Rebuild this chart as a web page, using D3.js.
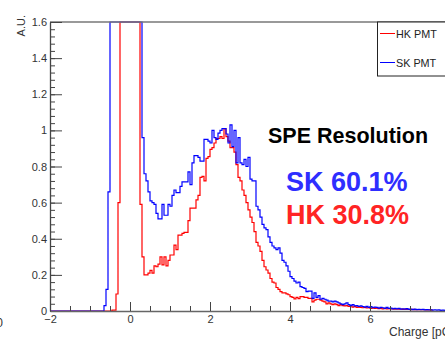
<!DOCTYPE html>
<html>
<head>
<meta charset="utf-8">
<script src="https://cdn.jsdelivr.net/npm/d3@7"></script>
<style>
  body { margin: 0; background: #fff; }
  svg { display: block; font-family: "Liberation Sans", Arial, Helvetica, sans-serif; }
</style>
</head>
<body>
<script>
// histogram bins, width 0.05 pC
const binWidth = 0.05
const xMin = -2
const xMax = 8

// SK PMT, first bin starts at -0.65 pC
const skStart = -0.65
const skValues = [
  0.03, 0.12, 0.66,
  4.1, 6.8, 9.5, 12.0, 13.2, 12.8, 11.0, 8.7, 6.2, 4.4, 3.1, 2.6, 2.2, 2.0, 1.9, 1.8,
  0.96, 0.76, 0.72, 0.66, 0.61, 0.60, 0.59, 0.54, 0.51, 0.51,
  0.59, 0.53, 0.53, 0.59, 0.58, 0.64, 0.67, 0.655, 0.655, 0.69,
  0.715, 0.715, 0.715, 0.77, 0.70, 0.82, 0.86, 0.86, 0.85, 0.83,
  0.83, 0.95, 0.95, 0.94, 0.93, 1.00, 0.96, 0.95, 0.985, 1.00,
  1.01, 1.01, 0.98, 0.93, 1.03, 0.91, 1.00, 0.82, 0.96, 0.82,
  0.81, 0.84, 0.80, 0.85, 0.73, 0.72, 0.72, 0.58, 0.56, 0.52,
  0.48, 0.46, 0.45, 0.41, 0.38, 0.36, 0.35, 0.34, 0.35, 0.32,
  0.28, 0.27, 0.25, 0.22, 0.19, 0.18, 0.165, 0.155, 0.16, 0.135,
  0.13, 0.125, 0.107, 0.11, 0.11, 0.07, 0.10, 0.075, 0.085, 0.065,
  0.07, 0.065, 0.06, 0.055, 0.055, 0.05, 0.055, 0.05, 0.045, 0.04,
  0.035, 0.04, 0.045, 0.035, 0.03, 0.035, 0.028, 0.03, 0.025, 0.028,
  0.025, 0.022, 0.026, 0.02, 0.024, 0.018, 0.022, 0.02, 0.016, 0.02,
  0.018, 0.015, 0.02, 0.014, 0.016, 0.012, 0.015, 0.012, 0.014, 0.01,
  0.012, 0.01, 0.013, 0.009, 0.011, 0.008, 0.01, 0.008, 0.009, 0.007,
  0.009, 0.006, 0.008, 0.006, 0.007, 0.005, 0.007, 0.005, 0.006, 0.004,
  0.005, 0.004, 0.005, 0.004
]

// HK PMT, first bin starts at -0.45 pC
const hkStart = -0.45
const hkValues = [
  0.005, 0.005, 0.094, 0.60,
  5.2, 9.8, 14.1, 16.0, 15.2, 12.4, 8.9, 5.6, 3.3, 2.1,
  0.59, 0.30, 0.20, 0.20, 0.21, 0.225, 0.21, 0.25, 0.245, 0.26,
  0.30, 0.255, 0.30, 0.25, 0.28, 0.31, 0.31, 0.365, 0.34, 0.42,
  0.42, 0.43, 0.435, 0.435, 0.50, 0.57, 0.57, 0.57, 0.615, 0.64,
  0.74, 0.745, 0.72, 0.845, 0.855, 0.895, 0.905, 0.93, 0.955, 0.955,
  0.965, 0.955, 1.01, 0.965, 0.94, 0.905, 0.905, 0.88, 0.81, 0.74,
  0.72, 0.67, 0.64, 0.60, 0.56, 0.52, 0.49, 0.44, 0.38, 0.36,
  0.33, 0.28, 0.245, 0.227, 0.21, 0.18, 0.16, 0.155, 0.13, 0.12,
  0.107, 0.10, 0.10, 0.095, 0.09, 0.08, 0.075, 0.067, 0.075, 0.068,
  0.08, 0.08, 0.075, 0.075, 0.07, 0.07, 0.05, 0.06, 0.065, 0.065,
  0.06, 0.055, 0.05, 0.04, 0.045, 0.04, 0.035, 0.04, 0.035, 0.03,
  0.035, 0.03, 0.028, 0.03, 0.025, 0.028, 0.022, 0.025, 0.02, 0.022,
  0.02, 0.018, 0.02, 0.017, 0.018, 0.015, 0.017, 0.014, 0.016, 0.013,
  0.015, 0.012, 0.014, 0.012, 0.013, 0.011, 0.012, 0.01, 0.011, 0.01,
  0.011, 0.009, 0.01, 0.009, 0.009, 0.008, 0.009, 0.008, 0.008, 0.007,
  0.008, 0.007, 0.007, 0.006, 0.007, 0.006
]

const yTicks = [0, 0.2, 0.4, 0.6, 0.8, 1, 1.2, 1.4, 1.6]
const xTicks = [-2, 0, 2, 4, 6]
const legendItems = ['HK PMT', 'SK PMT']
const resolutions = [['SK', '60.1%'], ['HK', '30.8%']]

const w = 445
const h = 345
const padL = 50, padR = 450, padT = 22, padB = 311

const svg = d3.select('body')
  .append('svg')
  .attr('width', w)
  .attr('height', h)

const xScale = d3.scaleLinear().domain([xMin, xMax]).range([padL, padR])
const yScale = d3.scaleLinear().domain([0, 1.6]).range([padB, padT]).clamp(true)

function steps(start, values) {
  var pts = [[xMin, 0]]
  var nLead = Math.round((start - xMin) / binWidth)
  for (var i = 0; i < nLead; i++) pts.push([xMin + i * binWidth, 0])
  values.forEach((v, i) => pts.push([start + i * binWidth, v]))
  var end = start + values.length * binWidth
  pts.push([end, values[values.length - 1]])
  pts.push([end, 0])
  return pts
}

const line = d3.line()
  .x(d => xScale(d[0]))
  .y(d => yScale(d[1]))
  .curve(d3.curveStepAfter)

svg.append('path')
  .attr('d', line(steps(hkStart, hkValues)))
  .attr('fill', 'none')
  .attr('stroke', '#ff0000')
  .attr('stroke-width', 1.2)

svg.append('path')
  .attr('d', line(steps(skStart, skValues)))
  .attr('fill', 'none')
  .attr('stroke', '#0000ff')
  .attr('stroke-width', 1.2)

// frame top
svg.append('line')
  .attr('x1', padL).attr('x2', w)
  .attr('y1', padT).attr('y2', padT)
  .attr('stroke', '#777').attr('stroke-width', 1.5)

// y axis, ticks inside
const yMinor = d3.range(0, 1.6001, 0.04)
svg.append('g')
  .attr('transform', `translate(${padL},0)`)
  .call(d3.axisLeft(yScale).tickValues(yMinor).tickSize(-5).tickFormat(''))
  .call(g => g.select('.domain').remove())
  .call(g => g.selectAll('line').attr('stroke', '#444'))

svg.append('g')
  .attr('transform', `translate(${padL},0)`)
  .call(d3.axisLeft(yScale).tickValues(yTicks).tickSize(-12).tickSizeOuter(0).tickPadding(3)
    .tickFormat(d => d3.format('')(+d.toFixed(1))))
  .call(g => g.select('.domain').attr('stroke', '#444').attr('stroke-width', 1.3))
  .call(g => g.selectAll('line').attr('stroke', '#444'))
  .call(g => g.selectAll('text').attr('font-size', 11).attr('fill', '#333')
    .attr('font-family', '"Liberation Sans", Arial, sans-serif'))

// x axis, ticks inside
const xMinor = d3.range(-2, 8.001, 0.5)
svg.append('g')
  .attr('transform', `translate(0,${padB})`)
  .call(d3.axisBottom(xScale).tickValues(xMinor).tickSize(-5).tickFormat(''))
  .call(g => g.select('.domain').remove())
  .call(g => g.selectAll('line').attr('stroke', '#444'))

svg.append('g')
  .attr('transform', `translate(0,${padB})`)
  .call(d3.axisBottom(xScale).tickValues(xTicks).tickSize(-9).tickSizeOuter(0).tickPadding(4))
  .call(g => g.select('.domain').attr('stroke', '#666').attr('stroke-width', 1.6))
  .call(g => g.selectAll('line').attr('stroke', '#444'))
  .call(g => g.selectAll('text').attr('font-size', 11).attr('fill', '#333')
    .attr('font-family', '"Liberation Sans", Arial, sans-serif'))

// axis titles
svg.append('text')
  .attr('transform', 'translate(25,15) rotate(-90)')
  .attr('text-anchor', 'end')
  .attr('font-size', 11)
  .attr('fill', '#333')
  .text('A.U.')

svg.append('text')
  .attr('x', 389).attr('y', 336)
  .attr('font-size', 12)
  .attr('fill', '#333')
  .text('Charge [pC]')

svg.append('text')
  .attr('x', 3).attr('y', 327)
  .attr('text-anchor', 'end')
  .attr('font-size', 12)
  .attr('fill', '#333')
  .text('0')

// legend
const leg = svg.append('g')
leg.append('rect')
  .attr('x', 377.5).attr('y', 22)
  .attr('width', 80).attr('height', 54)
  .attr('fill', '#fff')
  .attr('stroke', '#222')
  .attr('stroke-width', 1)
const legColors = ['#ff0000', '#0000ff']
legendItems.forEach((name, i) => {
  const y = 33.5 + i * 29
  leg.append('line')
    .attr('x1', 380).attr('x2', 395)
    .attr('y1', y).attr('y2', y)
    .attr('stroke', legColors[i])
  leg.append('text')
    .attr('x', 396).attr('y', y + 4)
    .attr('font-size', 10.8)
    .attr('fill', '#222')
    .text(name)
})

// annotations
svg.append('text')
  .attr('x', 268).attr('y', 143)
  .attr('font-size', 21.5)
  .attr('font-weight', 'bold')
  .attr('fill', '#000')
  .text('SPE Resolution')

const resColors = ['#2e2eff', '#ff2424']
resolutions.forEach((r, i) => {
  svg.append('text')
    .attr('x', 286).attr('y', 191 + i * 33)
    .attr('font-size', 27)
    .attr('font-weight', 'bold')
    .attr('fill', resColors[i])
    .text(r[0] + ' ' + r[1])
})
</script>
</body>
</html>
